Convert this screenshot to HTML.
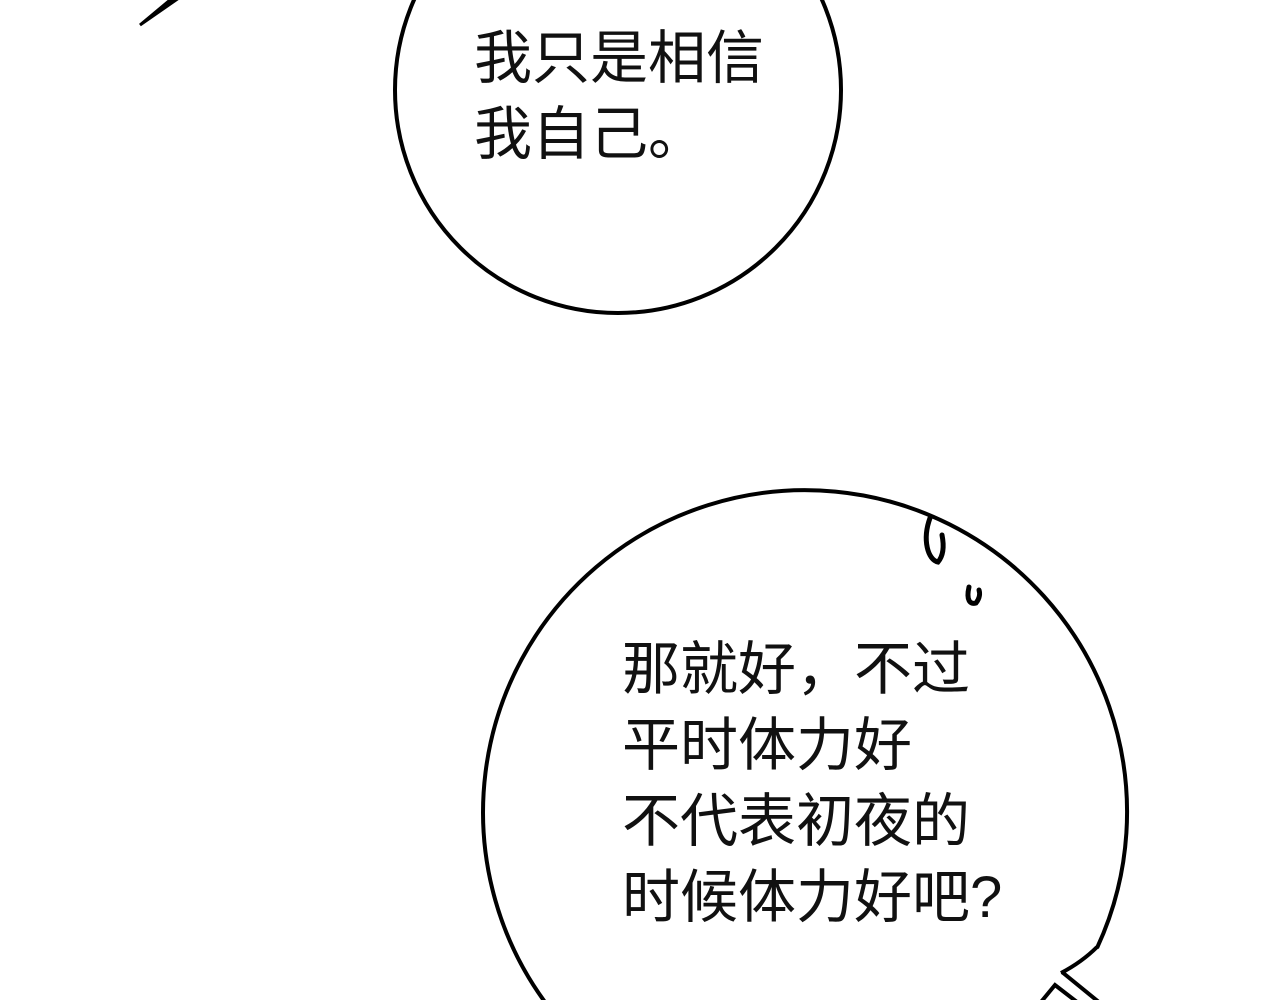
<!DOCTYPE html>
<html><head><style>
html,body{margin:0;padding:0;background:#fff;width:1280px;height:1000px;overflow:hidden}
.t{position:absolute;font-family:"Liberation Sans","Noto Sans CJK SC",sans-serif;font-size:58px;color:#111;line-height:76px;white-space:nowrap}
</style></head><body>
<svg width="1280" height="1000" style="position:absolute;left:0;top:0">
<path d="M140,25 L176,0 L170,0 Z" fill="#000" stroke="#000" stroke-width="3"/>
<circle cx="618" cy="90" r="223" fill="none" stroke="#000" stroke-width="4"/>
<path d="M1097,948 A322,322 0 1 0 644,1091" fill="none" stroke="#000" stroke-width="4"/>
<path d="M1097,947 Q1082,962 1061,973" fill="none" stroke="#000" stroke-width="4"/>
<path d="M1062,972 L1100,1003" fill="none" stroke="#000" stroke-width="4"/>
<path d="M1041,1002 L1055,985 L1077,1002" fill="none" stroke="#000" stroke-width="4"/>
<path d="M930,518 C922,540 928,560 938,562 C944,555 944,545 942,535" fill="none" stroke="#000" stroke-width="5" stroke-linecap="round"/>
<path d="M969,587 C966,600 970,605 976,603 C980,598 980,593 979,590" fill="none" stroke="#000" stroke-width="5" stroke-linecap="round"/>
</svg>
<div class="t" style="left:474px;top:21px">我只是相信<br>我自己。</div>
<div class="t" style="left:622px;top:632px">那就好，不过<br>平时体力好<br>不代表初夜的<br>时候体力好吧?</div>
</body></html>
